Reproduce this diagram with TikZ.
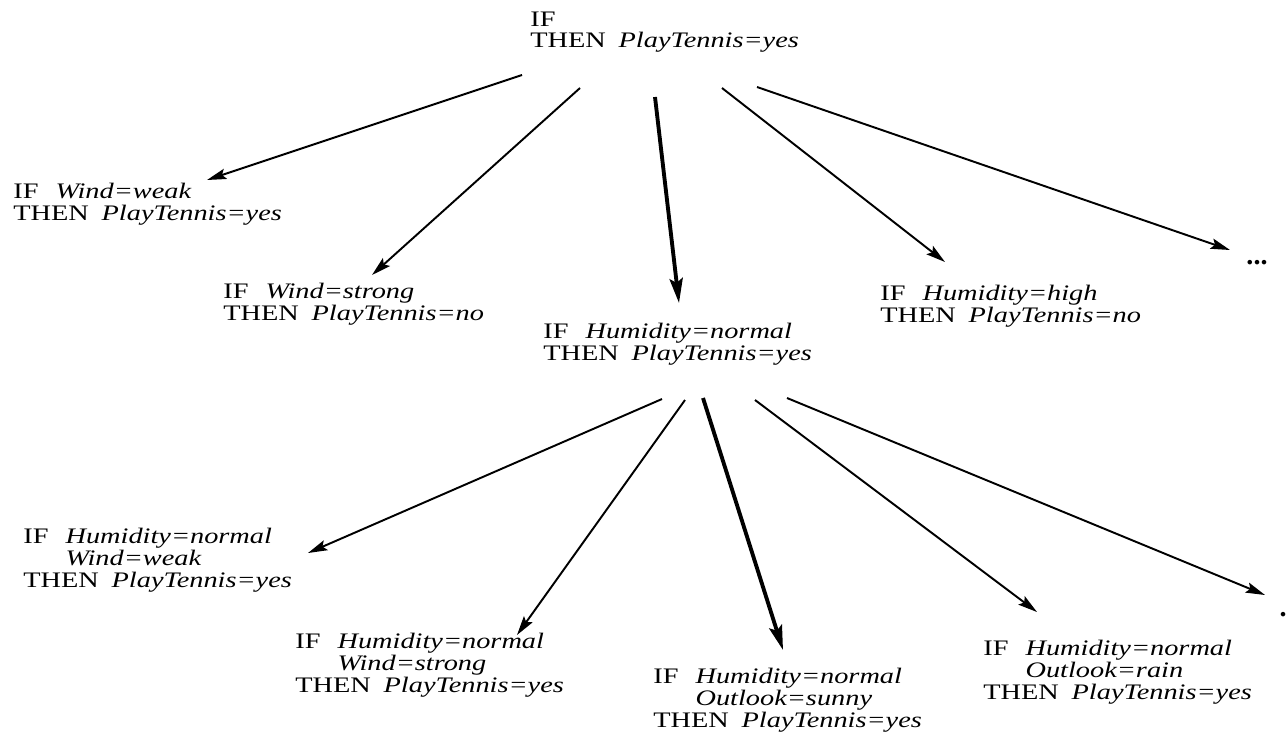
\documentclass[tikz,border=0pt]{standalone}
\usepackage{fontspec}
\setmainfont{Liberation Serif}
\usepackage{graphicx}
\usetikzlibrary{calc,arrows.meta}

\newcommand{\ruletext}[1]{\scalebox{1.28}[1]{\begin{tabular}{@{}l@{}}#1\end{tabular}}}
\newcommand{\condif}{IF\hspace{0.6em}}
\newcommand{\condand}{\phantom{IF}\hspace{0.6em}}
\newcommand{\condthen}{THEN\hspace{0.45em}}

\begin{document}
\begin{tikzpicture}[x=0.02cm, y=-0.02cm, rule/.style={anchor=north west, inner sep=0pt, font=\fontsize{12.6}{12}\selectfont}, more/.style={inner sep=0pt, font=\fontsize{16}{16}\selectfont\bfseries}, arc/.style={-{Stealth[length=11pt, width=6pt, inset=2pt]}, line width=1.1pt}, best/.style={-{Stealth[length=14pt, width=7.5pt, inset=2.5pt]}, line width=2.2pt}]
   \useasboundingbox (0,0) rectangle (1288,748);
   \node[rule] (root) at (530,11) {\ruletext{IF\\ \condthen\textit{PlayTennis=yes}}};
   \node[rule] (n1) at (13,183) {\ruletext{\condif\textit{Wind=weak}\\ \condthen\textit{PlayTennis=yes}}};
   \node[rule] (n2) at (223,283) {\ruletext{\condif\textit{Wind=strong}\\ \condthen\textit{PlayTennis=no}}};
   \node[rule] (n3) at (543,323) {\ruletext{\condif\textit{Humidity=normal}\\ \condthen\textit{PlayTennis=yes}}};
   \node[rule] (n4) at (880,285) {\ruletext{\condif\textit{Humidity=high}\\ \condthen\textit{PlayTennis=no}}};
   \node[more] (n5) at (1257,263) {...};
   \node[rule] (m1) at (23,528) {\ruletext{\condif\textit{Humidity=normal}\\ \condand\textit{Wind=weak}\\ \condthen\textit{PlayTennis=yes}}};
   \node[rule] (m2) at (295,633) {\ruletext{\condif\textit{Humidity=normal}\\ \condand\textit{Wind=strong}\\ \condthen\textit{PlayTennis=yes}}};
   \node[rule] (m3) at (653,668) {\ruletext{\condif\textit{Humidity=normal}\\ \condand\textit{Outlook=sunny}\\ \condthen\textit{PlayTennis=yes}}};
   \node[rule] (m4) at (983,640) {\ruletext{\condif\textit{Humidity=normal}\\ \condand\textit{Outlook=rain}\\ \condthen\textit{PlayTennis=yes}}};
   \node[more, anchor=base] (m5) at (1283,616) {.};
   \draw[arc] ($(root.north west)+(-8,64)$) -- ($(n1.north west)+(194,-3)$);
   \draw[arc] ($(root.north west)+(50,77)$) -- ($(n2.north west)+(149,-8)$);
   \draw[best] ($(root.north west)+(125,86)$) -- ($(n3.north west)+(136,-20)$);
   \draw[arc] ($(root.north west)+(192,77)$) -- ($(n4.north west)+(65,-23)$);
   \draw[arc] ($(root.north west)+(227,76)$) -- ($(n5.center)+(-27,-13)$);
   \draw[arc] ($(n3.north west)+(119,76)$) -- ($(m1.north west)+(285,25)$);
   \draw[arc] ($(n3.north west)+(142,77)$) -- ($(m2.north west)+(222,2)$);
   \draw[best] ($(n3.north west)+(160,75)$) -- ($(m3.north west)+(130,-18)$);
   \draw[arc] ($(n3.north west)+(212,77)$) -- ($(m4.north west)+(54,-28)$);
   \draw[arc] ($(n3.north west)+(244,75)$) -- ($(m5.base)+(-18,-21)$);
\end{tikzpicture}
\end{document}
